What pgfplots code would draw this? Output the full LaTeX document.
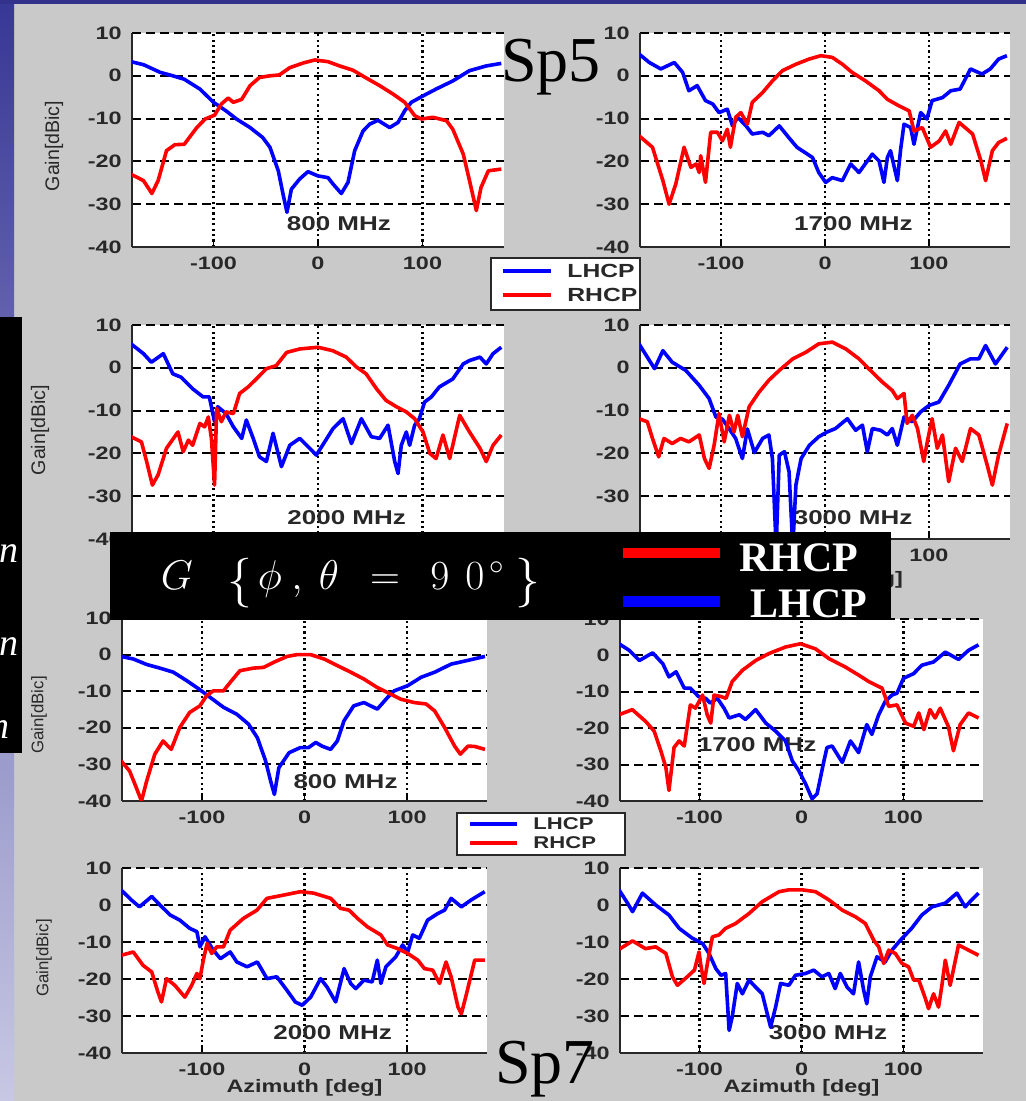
\documentclass[border=0pt]{standalone}
\usepackage{pgfplots}
\pgfplotsset{compat=1.18}
\usepackage{fontspec}
\setmainfont{Liberation Sans}[FakeStretch=1.3]
\newfontfamily\plainsans{Liberation Sans}
\newfontfamily\tnr{Liberation Serif}
\definecolor{bggray}{RGB}{201,201,201}
\definecolor{txt}{RGB}{40,40,40}
\definecolor{stripTop}{RGB}{55,55,150}
\definecolor{stripBot}{RGB}{200,200,228}
\definecolor{topBand}{RGB}{50,50,140}
\tikzset{
 lh/.style={blue, line width=1.8pt, line join=round},
 rh/.style={red, line width=1.8pt, line join=round},
 fq/.style={font=\bfseries\fontsize{10}{12}\selectfont, text=txt},
}
\pgfplotsset{
 sub/.style={
  scale only axis, xmin=-178, xmax=178, ymin=-40, ymax=10,
  xtick={-100,0,100}, ytick={-40,-30,-20,-10,0,10},
  axis x line*=bottom, axis y line*=left,
  axis line style={-, line width=1pt, txt},
  axis background/.style={fill=white},
  grid=major,
  x grid style={black, line width=1.1pt, dash pattern=on 1.1pt off 1.6pt},
  y grid style={black, line width=1pt, dash pattern=on 4.5pt off 2.5pt},
  tick align=inside, major tick length=2.5pt, tick style={black, line width=0.6pt},
  ticklabel style={font=\bfseries\fontsize{9}{10}\selectfont, text=txt},
  /pgf/number format/assume math mode=true,
  yticklabel style={inner sep=0pt, xshift=-5pt},
  xticklabel style={inner sep=0pt, yshift=-5pt},
  xlabel style={font=\bfseries\fontsize{9}{10}\selectfont, text=txt, at={(axis description cs:0.5,-0.19)}, anchor=center},
 },
}
\newcommand\gain[2]{\node[rotate=90, font=\plainsans\fontsize{#2}{9}\selectfont, text=txt] at #1 {Gain[dBic]};}
\begin{document}
\begin{tikzpicture}[x=0.5pt,y=0.5pt]
\useasboundingbox (0,0) rectangle (1026,1101);
\clip (0,0) rectangle (1026,1101);
\fill[bggray] (0,0) rectangle (1026,1101);
\shade[top color=stripTop, bottom color=stripBot] (0,0) rectangle (14,1101);
\fill[topBand] (0,1097) rectangle (1026,1101);

% ---- Sp5 800 MHz
\begin{axis}[sub, at={(66pt,427pt)}, anchor=south west, width=186pt, height=107pt]
\node[fq] at (axis cs:20,-34.6) {800 MHz};
\addplot[lh] coordinates {(-179,3.3)(-167,2.6)(-151,0.8)(-139,0)(-128,-0.8)(-113,-3.1)(-100,-6.2)(-88,-8.2)(-78,-10.1)(-65,-12.1)(-53,-14.4)(-46,-16.7)(-38,-22.2)(-33.5,-27.6)(-29.7,-31.9)(-25.5,-26.5)(-17.5,-24.1)(-9.6,-22.4)(0,-23.4)(9.6,-23.8)(14.4,-25.3)(22.3,-27.5)(28.7,-24.9)(35.1,-17.5)(43.1,-12.9)(49.4,-11.3)(57.4,-10.4)(68.6,-12.1)(76.6,-10.9)(82.9,-8.2)(89.3,-6.2)(100.5,-4.7)(113,-3.1)(129,-1.2)(145,1.2)(161,2.3)(175.4,2.9)};
\addplot[rh] coordinates {(-179,-23)(-167,-24.5)(-159,-27.5)(-153,-24.5)(-145,-17.5)(-137,-16.1)(-128,-16)(-116,-12.1)(-108,-10.1)(-99,-9.2)(-92.5,-6.6)(-86,-5.2)(-81,-6.2)(-73,-5.5)(-65,-2.3)(-56,-0.4)(-46,0)(-37,0.2)(-27,1.9)(-14,3)(-3,3.7)(9.6,3.3)(20.7,2.3)(33.5,1.3)(46,-0.5)(59,-2.3)(72,-4.3)(83,-6.2)(92.5,-9.3)(99,-10.1)(110,-9.7)(123,-10.5)(129,-12.5)(139,-18.3)(145,-24.5)(151.5,-31.5)(156,-26.1)(163,-22.2)(175.4,-21.8)};
\end{axis}

% ---- Sp5 1700 MHz
\begin{axis}[sub, at={(320pt,427pt)}, anchor=south west, width=185pt, height=107pt]
\node[fq] at (axis cs:27.4,-34.6) {1700 MHz};
\addplot[lh] coordinates {(-179,5.1)(-169,3.1)(-158,1.6)(-145,3.1)(-137,0.8)(-131,-3.5)(-123,-2.3)(-115,-5.8)(-108,-6.6)(-102,-8.6)(-94,-7.8)(-89,-11.7)(-84,-9.7)(-76,-11.7)(-70,-13.6)(-60,-13.2)(-54,-14)(-44,-11.7)(-35,-14.4)(-27,-16.7)(-12,-19.1)(-6,-22.6)(0.6,-24.9)(7,-23.8)(16.7,-24.5)(24.7,-20.6)(32.7,-22.6)(45.5,-18.3)(52,-19.9)(56.7,-24.9)(60,-19.1)(63,-17.5)(69.6,-24.5)(72.8,-17.1)(76,-11.3)(82.4,-12.1)(85.6,-16)(92,-8.6)(98,-10.1)(103,-5.8)(113,-5.1)(121,-3.5)(130,-3.1)(140,1.6)(151,0.4)(159,1.6)(167,3.9)(175,4.7)};
\addplot[rh] coordinates {(-179,-14)(-166,-16.7)(-156,-24.5)(-150,-30)(-143.6,-25.3)(-135.6,-16.7)(-129,-21.4)(-124,-20.6)(-121,-22.6)(-119.6,-18.7)(-115,-24.9)(-110,-13.2)(-103.5,-13.2)(-98.7,-15.2)(-94,-12.5)(-91,-16.7)(-86,-9.7)(-81,-8.6)(-74.7,-11.3)(-70,-6.2)(-60,-3.9)(-50.6,-1.2)(-41,1.2)(-28,2.7)(-15.4,3.9)(-4,4.7)(7,4.3)(16.7,2.7)(26,0.8)(39,-1.2)(52,-3.5)(60,-5.5)(71,-7)(81,-8.2)(85.6,-12.9)(93.6,-12.1)(101.6,-16.7)(110,-15.2)(116,-12.9)(121,-16)(129,-10.9)(142,-13.6)(150,-19.9)(154.5,-24.5)(161,-17.5)(167,-15.6)(175,-14.6)};
\end{axis}

% ---- Sp5 2000 MHz
\begin{axis}[sub, at={(66pt,281pt)}, anchor=south west, width=186pt, height=107pt, xlabel={Azimuth [deg]}]
\node[fq] at (axis cs:27.4,-35.1) {2000 MHz};
\addplot[lh] coordinates {(-179,5.6)(-167,3.3)(-159.5,1.3)(-148,3.3)(-139,-1.4)(-131,-2.2)(-120,-4.9)(-110,-6.8)(-104,-6.8)(-99,-12.6)(-96,-9.1)(-88,-10.7)(-81,-13.8)(-73,-16.5)(-68.6,-12.2)(-62,-16.5)(-56,-20.8)(-49.4,-21.9)(-43,-15.3)(-35,-23.1)(-27,-18.1)(-17.5,-16.5)(-8,-18.8)(-1.6,-20.4)(6.4,-17.3)(14.4,-14.2)(24,-11.9)(32,-17.7)(41.5,-11.9)(51,-16.1)(59,-16.5)(67,-13.4)(73.4,-21.9)(76.6,-24.7)(79.7,-18.1)(84.5,-15)(87.7,-18.1)(92.5,-13.4)(97,-11.9)(102,-8)(108.5,-6.8)(116,-4.5)(129,-2.6)(139,0.9)(145,1.7)(155,2.5)(161,0.9)(167.5,3.3)(175.4,4.8)};
\addplot[rh] coordinates {(-179,-16.1)(-169,-17.3)(-164,-21.9)(-158.5,-27.4)(-153,-25)(-145,-18.8)(-134,-15)(-129,-19.6)(-124,-16.9)(-120,-18.1)(-113,-13)(-108.5,-13.8)(-105,-11.5)(-102,-16.5)(-99,-27.4)(-97,-9.5)(-92.5,-12.6)(-88,-10.3)(-81,-10.7)(-75,-6)(-67,-4.5)(-59,-2.6)(-49.4,-0.2)(-40,0.5)(-30,3.6)(-17.5,4.4)(0,4.8)(14,4)(27,2.5)(36.7,0.2)(46,-1.4)(56,-4.9)(65,-7.6)(75,-9.1)(84.5,-10.3)(92.5,-11.9)(100.5,-15)(107,-20)(113,-21.2)(119.6,-15.7)(126,-21.2)(135.6,-11.1)(145,-15)(155,-18.8)(161,-21.9)(167.5,-18.1)(175.4,-15.7)};
\end{axis}

% ---- Sp5 3000 MHz
\begin{axis}[sub, at={(320pt,281pt)}, anchor=south west, width=185pt, height=107pt, xlabel={Azimuth [deg]}]
\node[fq] at (axis cs:27,-35) {3000 MHz};
\addplot[lh] coordinates {(-179,5.6)(-171,2.5)(-164,-0.2)(-156,4)(-147,1.3)(-134,-0.6)(-121,-4.1)(-111.5,-7.2)(-105,-11.5)(-98.7,-12)(-92,-14.3)(-86,-16.5)(-79.5,-21.2)(-74.7,-14.3)(-68,-19.8)(-60,-16.5)(-54,-15.7)(-50.6,-21.2)(-47,-42)(-44,-20.4)(-39,-19.6)(-34.6,-24.3)(-31,-42)(-28,-27.4)(-23,-21.2)(-15,-18.1)(-6,-16.1)(2,-15)(10,-14.2)(21.5,-11.9)(29.5,-14.6)(36,-13.4)(40.7,-19.6)(45.5,-14.2)(53.5,-14.6)(60,-15.7)(64.7,-14.2)(69.6,-18.1)(76,-11.5)(84,-12.6)(92,-10.3)(100,-8.8)(109.6,-8)(119,-4.1)(130,0.9)(140,2.1)(148,2.1)(154.5,5.2)(164,0.9)(175.3,4.8)};
\addplot[rh] coordinates {(-179,-11.9)(-171,-12.6)(-166,-16.5)(-160,-20.8)(-155,-16.5)(-147,-17.7)(-139,-16.5)(-131,-17.3)(-121,-15.7)(-116,-21.2)(-111.5,-23.5)(-106.7,-18.1)(-102,-10.7)(-97,-17.3)(-92,-11.1)(-87.5,-15)(-84,-11.1)(-79.5,-16.1)(-73,-9.1)(-63.5,-5.7)(-54,-2.9)(-44,-0.6)(-31,2.1)(-18.6,3.6)(-6,5.6)(7,6)(20,4.4)(32.7,2.1)(42,-0.2)(55,-3.3)(64.7,-5.3)(69.6,-7.2)(76,-6)(79,-13)(84,-11.1)(89,-14.2)(95,-21.9)(98.4,-17.3)(103,-11.9)(108,-18.8)(113,-15.7)(119,-26.6)(125.6,-18.8)(132,-21.9)(140,-14.2)(148,-15.7)(156,-22.7)(161,-27.4)(167,-20.4)(175.3,-13)};
\end{axis}

% ---- Sp7 800 MHz
\begin{axis}[sub, at={(61pt,150pt)}, anchor=south west, width=182.5pt, height=91.5pt]
\node[fq] at (axis cs:40,-34.8) {800 MHz};
\addplot[lh] coordinates {(-179,-0.5)(-167,-1.2)(-154,-2.7)(-141,-3.7)(-128,-4.8)(-115,-7.1)(-103,-9.4)(-92,-11.7)(-79,-14.4)(-66,-16.3)(-54.6,-19)(-46,-22.7)(-38,-29)(-33,-34.6)(-29.4,-38.2)(-25,-30.9)(-15,-26.8)(-4,-25.4)(4,-25.4)(11,-24)(17,-25)(25.5,-25.9)(32,-23.6)(38.5,-18.1)(48,-14)(58,-13.1)(71,-14.9)(81,-11.7)(87.5,-9.9)(100.6,-8.5)(113.7,-6.2)(127,-4.8)(143,-2.6)(159,-1.6)(176,-0.5)};
\addplot[rh] coordinates {(-179,-29)(-170.6,-31.8)(-164,-36.4)(-159,-40)(-154,-34.6)(-146,-27.2)(-138,-23.6)(-130,-25.9)(-121.6,-19.9)(-112,-15.8)(-102,-14)(-95.4,-11.2)(-89,-9.9)(-79,-9.9)(-72.5,-7.6)(-63,-4.4)(-50,-3.7)(-40,-3.5)(-30,-2.1)(-17,-0.5)(-7,0)(6,0)(19,-1.2)(32,-3)(45,-4.8)(58,-6.7)(71,-9)(84,-10.8)(94,-12.2)(107,-13.1)(118.6,-13.5)(127,-15.4)(136.6,-19.9)(146.4,-25)(152,-27.2)(159.5,-25)(166,-25.1)(176,-25.9)};
\end{axis}

% ---- Sp7 1700 MHz
\begin{axis}[sub, at={(310pt,150pt)}, anchor=south west, width=181.5pt, height=91pt]
\node[fq] at (axis cs:-43.6,-24.6) {1700 MHz};
\addplot[lh] coordinates {(-179,3.2)(-169,1.4)(-159,-1.4)(-146,0.7)(-136,-2.3)(-130,-5.9)(-123,-4.5)(-115,-9)(-109,-9)(-101,-11.3)(-94,-11.8)(-89.4,-13.1)(-82.5,-11.8)(-76,-14.5)(-71,-17.2)(-61,-16.3)(-55,-17.6)(-45,-14.9)(-35,-18.6)(-25.4,-20.8)(-15.7,-23.5)(-9,-29)(-2.6,-31.7)(4,-35.3)(10.4,-39.4)(15.3,-38)(22,-29)(25,-25.3)(30,-24.9)(40,-29.4)(48,-23.5)(56,-26.7)(64,-19)(69,-21.7)(75.7,-16.3)(82,-12.7)(88.7,-10.9)(93.6,-10.4)(100,-6.3)(110,-5)(118,-2.7)(129.5,-1.8)(141,0.9)(154,-1.1)(163.8,1.4)(173.6,2.9)};
\addplot[rh] coordinates {(-179,-16.3)(-166,-14.9)(-153,-18.1)(-144.5,-20.8)(-138,-26.2)(-133,-30.8)(-130,-37.1)(-125,-25.3)(-120,-23.5)(-115,-24.9)(-109,-13.6)(-104,-14.5)(-97,-10.9)(-92.5,-16.3)(-89,-18.6)(-85.8,-10.9)(-79,-11.3)(-74,-11.8)(-68,-7.2)(-58,-4.1)(-45,-1.4)(-32,0.5)(-15.7,2.3)(-1,3.2)(13.7,1.8)(27,-0.9)(43,-3.2)(56,-5.4)(66,-7.2)(79,-9)(82,-11.3)(85.5,-14)(93.6,-13.6)(102,-18.6)(110,-19.5)(115,-15.8)(120,-20.4)(126,-14.9)(131,-17.2)(136,-14.5)(144,-19.5)(149,-26.2)(155.6,-19)(163.8,-15.8)(173.6,-17.2)};
\end{axis}

% ---- Sp7 2000 MHz
\begin{axis}[sub, at={(61pt,24pt)}, anchor=south west, width=182.5pt, height=92.5pt, xlabel={Azimuth [deg]}]
\node[fq] at (axis cs:27.5,-34.6) {2000 MHz};
\addplot[lh] coordinates {(-179,4.1)(-169,1.4)(-161,-0.5)(-149,2.3)(-141,0)(-131,-2.7)(-121.6,-4.1)(-112,-6.3)(-105,-7.2)(-102,-11.3)(-97,-8.6)(-89,-12.2)(-82,-14.5)(-72.5,-12.7)(-66,-15.4)(-56,-16.7)(-46,-15.4)(-36.6,-19.9)(-27,-19.4)(-17,-23.1)(-9,-26.2)(-2.3,-27.1)(6,-24.9)(15.7,-19.9)(22,-22.2)(30.4,-26.2)(38.6,-17.2)(45,-21.2)(50,-22.6)(58,-20.3)(66,-20.8)(71,-14.9)(74.5,-21.2)(79.4,-16.7)(89,-14)(95.7,-10.8)(100.7,-12.7)(105.5,-8.1)(112,-9)(120,-4.1)(130,-2.3)(136.6,-1.4)(143,1.8)(153,-0.5)(162.7,1.4)(175.8,3.6)};
\addplot[rh] coordinates {(-179,-13.6)(-167,-12.7)(-157.5,-16.3)(-149,-18.1)(-143,-23.5)(-139.5,-26.2)(-134.6,-19.9)(-126.5,-21.7)(-116.7,-24.9)(-110,-21.7)(-105,-18.5)(-102,-19.9)(-98.7,-14.9)(-95,-10.4)(-90.5,-13.1)(-85.6,-11.3)(-79,-11.3)(-72.5,-6.8)(-59.5,-3.6)(-46.4,-1.4)(-36.6,1.8)(-20,2.7)(-4,3.6)(9,3.2)(25.5,1.8)(35,-0.9)(43.5,-1.4)(51.6,-3.6)(61.4,-5.9)(74.5,-8.1)(81,-10.8)(91,-11.8)(100.7,-13.1)(110.5,-14.9)(117,-17.2)(125,-17.6)(131.7,-21.2)(138,-15.4)(143,-19.4)(149.7,-27.6)(153,-29.4)(158,-24)(166,-14.9)(175.8,-14.9)};
\end{axis}

% ---- Sp7 3000 MHz
\begin{axis}[sub, at={(310pt,24pt)}, anchor=south west, width=181.5pt, height=92.5pt, xlabel={Azimuth [deg]}]
\node[fq] at (axis cs:26,-34.6) {3000 MHz};
\addplot[lh] coordinates {(-179,4.1)(-170.6,0.5)(-165.7,-1.8)(-156,3.2)(-143,0)(-130,-2.7)(-120,-6.3)(-107,-9)(-97,-10.4)(-90.7,-13.1)(-84,-17.2)(-79,-19)(-74.4,-18.5)(-71,-33.9)(-68,-30.3)(-63,-21.2)(-58,-24)(-51.5,-20.3)(-45,-22.2)(-38.5,-24)(-30.3,-33)(-25.4,-27.6)(-20.5,-21.2)(-12.4,-21.7)(-6,-19)(4,-18.5)(12,-17.6)(20,-19.4)(26.8,-18.5)(33,-22.6)(38,-18.5)(44.7,-22.2)(51,-24)(56,-15.4)(61,-23.1)(64,-26.7)(67.5,-19.4)(74,-14)(82,-15.4)(88.7,-12.2)(97,-9.5)(108,-6.3)(118,-2.7)(128,-0.5)(141,0.5)(152.4,3.2)(160.5,-0.5)(167,1.4)(173.6,3.2)};
\addplot[rh] coordinates {(-179,-12)(-165.7,-9.7)(-153,-11.8)(-143,-11.3)(-133,-13.1)(-126.6,-19.4)(-121.7,-21.7)(-112,-19.4)(-105,-17.6)(-100.5,-12.7)(-99,-15.8)(-95.6,-21.2)(-92.3,-15.8)(-87.4,-8.6)(-81,-8.1)(-74.4,-6.3)(-64.6,-5)(-51.5,-2.3)(-38.5,0.9)(-22,3.6)(-12.4,4.1)(0.7,4.1)(13.7,3.6)(26.8,1.4)(40,-1.4)(53,-3.2)(62.6,-5)(70.8,-9.5)(75.7,-11.3)(80.6,-15.8)(85.5,-12.2)(92,-13.1)(98.5,-15.8)(105,-16.7)(110,-20.3)(115,-20.3)(121,-24.9)(124.6,-28)(129.5,-24)(134.4,-27.6)(137.7,-21.7)(141,-14.9)(145.8,-21.7)(154,-10.8)(163.8,-12.2)(173.6,-13.6)};
\end{axis}

% y labels
\gain{(54,955)}{9.8}
\gain{(40,671)}{9.8}
\gain{(39,386)}{8.4}
\gain{(44,143)}{8.4}

% legend boxes
\draw[fill=white, draw=txt, line width=1pt] (491,791) rectangle (640,843);
\draw[blue, line width=1.6pt] (503,830) -- (551,830);
\draw[red, line width=1.6pt] (503,806) -- (551,806);
\node[anchor=west, inner sep=0pt, font=\bfseries\fontsize{9.5}{11}\selectfont, text=txt] at (567,830) {LHCP};
\node[anchor=west, inner sep=0pt, font=\bfseries\fontsize{9.5}{11}\selectfont, text=txt] at (567,806) {RHCP};

\draw[fill=white, draw=txt, line width=1pt] (457,246) rectangle (625,288);
\draw[blue, line width=1.6pt] (470,277) -- (517,277);
\draw[red, line width=1.6pt] (470,258) -- (517,258);
\node[anchor=west, inner sep=0pt, font=\bfseries\fontsize{8.5}{10}\selectfont, text=txt] at (533,277) {LHCP};
\node[anchor=west, inner sep=0pt, font=\bfseries\fontsize{8.5}{10}\selectfont, text=txt] at (533,258) {RHCP};

% formula box
\fill[black] (110,481) rectangle (891,569);
\begin{scope}[every node/.style={text=white, inner sep=0pt, font=\fontsize{22}{26}\selectfont}]
\node[anchor=base] at (177,511) {$G$};
\node at (240,518) {\fontsize{24}{28}\selectfont$\Big\{$};
\node[anchor=base] at (270,511) {$\phi$};
\node[anchor=base] at (297,511) {$,$};
\node[anchor=base] at (329,511) {$\theta$};
\node[anchor=base] at (385,511) {$=$};
\node[anchor=base] at (440,511) {$9$};
\node[anchor=base] at (475,511) {$0$};
\node[anchor=base] at (497,511) {$^{\circ}$};
\node at (528,518) {\fontsize{24}{28}\selectfont$\Big\}$};
\end{scope}
\fill[red] (623,543) rectangle (720,553);
\fill[blue] (623,494) rectangle (720,505);
\node[anchor=base west, inner sep=0pt, text=white, font=\tnr\bfseries\fontsize{21}{24}\selectfont] at (739,529) {RHCP};
\begin{scope}
\clip (110,481) rectangle (891,569);
\node[anchor=base west, inner sep=0pt, text=white, font=\tnr\bfseries\fontsize{21}{24}\selectfont] at (750,483) {LHCP};
\end{scope}

% left black strip
\fill[black] (0,348) rectangle (22,784);
\begin{scope}
\clip (0,348) rectangle (22,784);
\node[anchor=east, inner sep=0pt, text=white, font=\tnr\itshape\fontsize{19}{22}\selectfont] at (19,547) {n};
\node[anchor=east, inner sep=0pt, text=white, font=\tnr\itshape\fontsize{19}{22}\selectfont] at (19,454) {n};
\node[anchor=east, inner sep=0pt, text=white, font=\tnr\itshape\fontsize{19}{22}\selectfont] at (10,371) {n};
\end{scope}

% Sp5 / Sp7
\node[anchor=base west, inner sep=0pt, font=\tnr\fontsize{32}{36}\selectfont] at (501,1019) {Sp5};
\node[anchor=base west, inner sep=0pt, font=\tnr\fontsize{32}{36}\selectfont] at (495,18) {Sp7};
\end{tikzpicture}
\end{document}
